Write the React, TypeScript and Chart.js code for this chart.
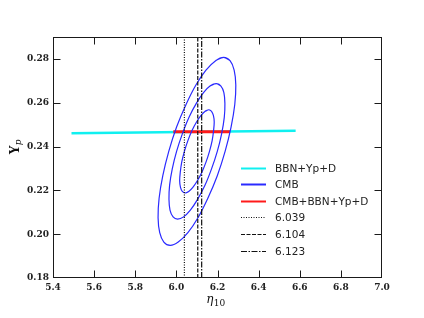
import React, { useEffect, useRef } from "react";
import { Chart, registerables } from "chart.js";

Chart.register(...registerables);

// Axis ranges and ticks
const xMin = 5.4;
const xMax = 7.0;
const yMin = 0.18;
const yMax = 0.29;
const xTicks = [5.4, 5.6, 5.8, 6.0, 6.2, 6.4, 6.6, 6.8, 7.0];
const yTicks = [0.18, 0.2, 0.22, 0.24, 0.26, 0.28];

// CMB contours (inner, middle, outer)
const cmb1Eta = [6.158, 6.171, 6.18, 6.184, 6.181, 6.174, 6.161, 6.144, 6.124, 6.102, 6.08, 6.06, 6.042, 6.029, 6.02, 6.016, 6.019, 6.026, 6.039, 6.056, 6.076, 6.098, 6.12, 6.14];
const cmb1Yp = [0.2568, 0.2561, 0.2542, 0.2512, 0.2473, 0.2427, 0.2378, 0.2329, 0.2283, 0.2244, 0.2214, 0.2195, 0.2188, 0.2195, 0.2214, 0.2244, 0.2283, 0.2329, 0.2378, 0.2427, 0.2473, 0.2512, 0.2542, 0.2561];
const cmb2Eta = [6.194, 6.216, 6.231, 6.236, 6.233, 6.22, 6.199, 6.171, 6.139, 6.103, 6.068, 6.035, 6.006, 5.984, 5.969, 5.964, 5.967, 5.98, 6.001, 6.029, 6.061, 6.097, 6.132, 6.165];
const cmb2Yp = [0.2687, 0.2677, 0.2646, 0.2597, 0.2533, 0.2458, 0.2378, 0.2298, 0.2223, 0.2159, 0.211, 0.2079, 0.2069, 0.2079, 0.211, 0.2159, 0.2223, 0.2298, 0.2378, 0.2458, 0.2533, 0.2597, 0.2646, 0.2677];
const cmb3Eta = [6.23, 6.261, 6.281, 6.289, 6.284, 6.266, 6.237, 6.199, 6.153, 6.105, 6.056, 6.009, 5.97, 5.939, 5.919, 5.911, 5.916, 5.934, 5.963, 6.001, 6.047, 6.095, 6.144, 6.191];
const cmb3Yp = [0.2807, 0.2792, 0.2749, 0.2681, 0.2592, 0.2489, 0.2378, 0.2267, 0.2164, 0.2075, 0.2007, 0.1964, 0.1949, 0.1964, 0.2007, 0.2075, 0.2164, 0.2267, 0.2378, 0.2489, 0.2592, 0.2681, 0.2749, 0.2792];

// BBN+Yp+D band and combined band
const bbnEta = [5.49, 6.58];
const bbnYp = [0.2461, 0.2472];
const comboEta = [5.985, 6.261];
const comboYp = [0.2467, 0.2467];

// Vertical reference lines
const refValues = [6.039, 6.104, 6.123];
const refLabels = ["6.039", "6.104", "6.123"];
const seriesLabels = ["BBN+Yp+D", "CMB", "CMB+BBN+Yp+D"];

const CYAN = "#10f0f0";
const BLUE = "#2a2aff";
const RED = "#ff1a1a";
const BLACK = "#111111";
const DASHES: number[][] = [[1, 1.5], [4, 1.5], [6, 1.5, 1.5, 1.5]];

function closedLoop(xs: number[], ys: number[]) {
  const pts = xs.map((x, i) => ({ x, y: ys[i] }));
  const n = pts.length;
  return [pts[n - 1], ...pts, pts[0], pts[1]];
}

function zip(xs: number[], ys: number[]) {
  return xs.map((x, i) => ({ x, y: ys[i] }));
}

const overlayPlugin = {
  id: "overlay",
  afterDatasetsDraw(chart: any) {
    const ctx: CanvasRenderingContext2D = chart.ctx;
    const { left, right, top, bottom } = chart.chartArea;
    const xs = chart.scales.x;
    const ys = chart.scales.y;
    ctx.save();
    // frame
    ctx.setLineDash([]);
    ctx.strokeStyle = "#1a1a1a";
    ctx.lineWidth = 1;
    ctx.strokeRect(left + 0.5, top + 0.5, right - left - 1, bottom - top - 1);
    // inward ticks on all sides
    const tl = 7.5;
    ctx.beginPath();
    xTicks.forEach((v) => {
      if (v <= xMin + 1e-9 || v >= xMax - 1e-9) return;
      const px = Math.round(xs.getPixelForValue(v)) + 0.5;
      ctx.moveTo(px, bottom);
      ctx.lineTo(px, bottom - tl);
      ctx.moveTo(px, top);
      ctx.lineTo(px, top + tl);
    });
    yTicks.forEach((v) => {
      if (v <= yMin + 1e-9 || v >= yMax - 1e-9) return;
      const py = Math.round(ys.getPixelForValue(v)) + 0.5;
      ctx.moveTo(left, py);
      ctx.lineTo(left + tl, py);
      ctx.moveTo(right, py);
      ctx.lineTo(right - tl, py);
    });
    ctx.stroke();

    // legend
    const lx0 = 241;
    const lx1 = 266;
    const tx = 275;
    const y0 = 167.5;
    const dy = 16.6;
    const colors = [CYAN, BLUE, RED];
    ctx.font = "10.5px 'DejaVu Sans'";
    ctx.textBaseline = "middle";
    ctx.textAlign = "left";
    for (let i = 0; i < 6; i++) {
      const y = Math.round(y0 + i * dy) + 0.5;
      ctx.beginPath();
      if (i < 3) {
        ctx.setLineDash([]);
        ctx.strokeStyle = colors[i];
        ctx.lineWidth = 2;
      } else {
        ctx.setLineDash(DASHES[i - 3]);
        ctx.strokeStyle = BLACK;
        ctx.lineWidth = 1.2;
      }
      ctx.moveTo(lx0, y);
      ctx.lineTo(lx1, y);
      ctx.stroke();
      ctx.setLineDash([]);
      ctx.fillStyle = "#222";
      ctx.fillText(i < 3 ? seriesLabels[i] : refLabels[i - 3], tx, y + 0.5);
    }

    // x-axis title: eta_10
    ctx.fillStyle = "#111";
    ctx.textBaseline = "alphabetic";
    const f1 = "italic 12px 'DejaVu Serif'";
    const f2 = "9px 'DejaVu Serif'";
    ctx.font = f1;
    const w1 = ctx.measureText("η").width;
    ctx.font = f2;
    const w2 = ctx.measureText("10").width;
    const cx = (left + right) / 2 - 2;
    const sx = cx - (w1 + w2) / 2;
    ctx.font = f1;
    ctx.fillText("η", sx, 303);
    ctx.font = f2;
    ctx.fillText("10", sx + w1 + 0.5, 306);

    // y-axis title: Y_p (rotated)
    ctx.translate(18.5, 147);
    ctx.rotate(-Math.PI / 2);
    const g1 = "bold 12px 'DejaVu Serif'";
    const g2 = "italic 9px 'DejaVu Serif'";
    ctx.font = g1;
    const v1 = ctx.measureText("Y").width;
    ctx.font = g2;
    const v2 = ctx.measureText("p").width;
    const s0 = -(v1 + v2) / 2;
    ctx.font = g1;
    ctx.fillText("Y", s0, 0);
    ctx.font = g2;
    ctx.fillText("p", s0 + v1 + 0.3, 2.5);
    ctx.restore();
  },
};

export default function App() {
  const ref = useRef<HTMLCanvasElement | null>(null);
  useEffect(() => {
    document.body.style.margin = "0";
    const canvas = ref.current;
    if (!canvas) return;
    const ellipseStyle = {
      showLine: true,
      borderColor: BLUE,
      backgroundColor: BLUE,
      borderWidth: 1.2,
      pointRadius: 0,
      tension: 0.34,
      fill: false,
      order: 1,
    };
    const datasets: any[] = [
      ...refValues.map((v, i) => ({
        label: refLabels[i],
        data: [
          { x: v, y: yMin },
          { x: v, y: yMax },
        ],
        showLine: true,
        borderColor: BLACK,
        borderWidth: 1.2,
        borderDash: DASHES[i],
        pointRadius: 0,
        order: 0,
      })),
      { label: "CMB 1", data: closedLoop(cmb1Eta, cmb1Yp), ...ellipseStyle },
      { label: "CMB 2", data: closedLoop(cmb2Eta, cmb2Yp), ...ellipseStyle },
      { label: "CMB 3", data: closedLoop(cmb3Eta, cmb3Yp), ...ellipseStyle },
      {
        label: seriesLabels[2],
        data: zip(comboEta, comboYp),
        showLine: true,
        borderColor: RED,
        borderWidth: 3,
        pointRadius: 0,
        order: 2,
      },
      {
        label: seriesLabels[0],
        data: zip(bbnEta, bbnYp),
        showLine: true,
        borderColor: CYAN,
        borderWidth: 2.5,
        pointRadius: 0,
        order: 3,
      },
    ];
    const chart = new Chart(canvas, {
      type: "scatter",
      data: { datasets },
      options: {
        animation: false,
        responsive: false,
        devicePixelRatio: 1,
        events: [],
        layout: { padding: { left: 0, top: 37, right: 42, bottom: 0 } },
        plugins: {
          legend: { display: false },
          tooltip: { enabled: false },
        },
        scales: {
          x: {
            type: "linear",
            min: xMin,
            max: xMax,
            afterBuildTicks: (s: any) => {
              s.ticks = xTicks.map((v) => ({ value: v }));
            },
            afterFit: (s: any) => {
              s.height = 40;
            },
            grid: { display: false, drawTicks: false },
            border: { display: false },
            ticks: {
              padding: 4,
              maxRotation: 0,
              autoSkip: false,
              color: "#222",
              font: { family: "'DejaVu Serif'", weight: "bold", size: 9 },
              callback: (v: any) => Number(v).toFixed(1),
            },
          },
          y: {
            type: "linear",
            min: yMin,
            max: yMax,
            afterBuildTicks: (s: any) => {
              s.ticks = yTicks.map((v) => ({ value: v }));
            },
            afterFit: (s: any) => {
              s.width = 53;
            },
            grid: { display: false, drawTicks: false },
            border: { display: false },
            ticks: {
              padding: 4,
              autoSkip: false,
              color: "#222",
              font: { family: "'DejaVu Serif'", weight: "bold", size: 9 },
              callback: (v: any) => Number(v).toFixed(2),
            },
          },
        },
      },
      plugins: [overlayPlugin],
    });
    return () => chart.destroy();
  }, []);
  return (
    <canvas
      ref={ref}
      width={424}
      height={318}
      style={{ display: "block", width: 424, height: 318 }}
    />
  );
}
